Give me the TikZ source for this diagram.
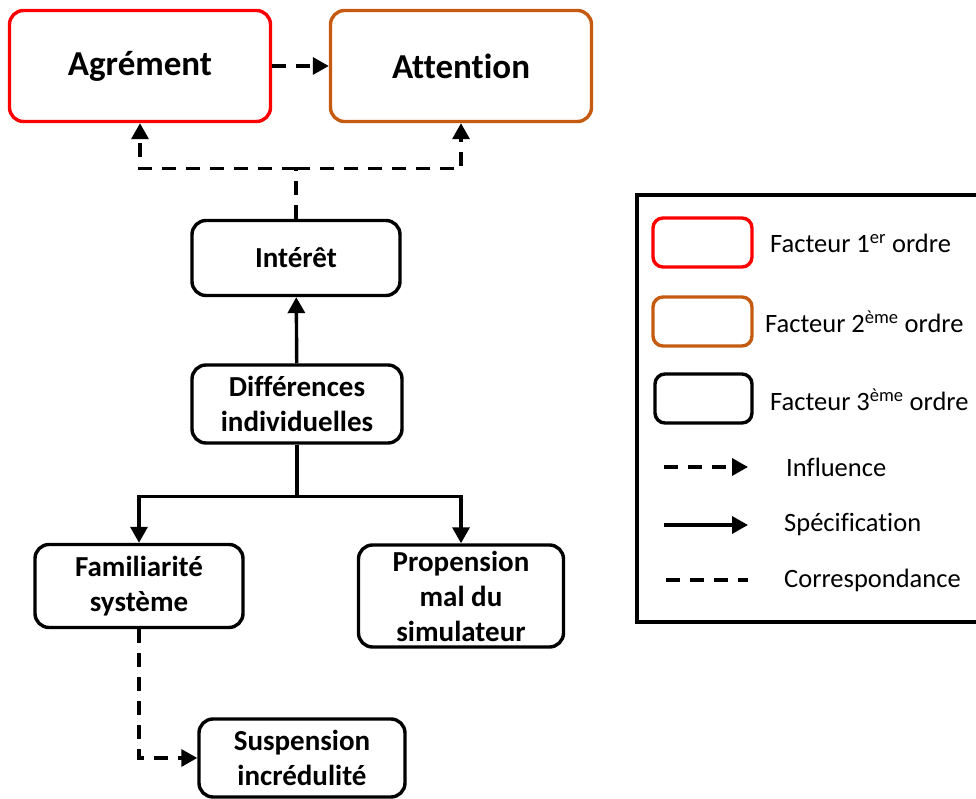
\documentclass[tikz,border=0pt]{standalone}
\usepackage{fontspec}
\setmainfont{Carlito}[Ligatures=NoCommon]
\usepackage{tikz}
\usetikzlibrary{positioning, arrows.meta}
\definecolor{factRed}{RGB}{255,0,0}
\definecolor{factOrange}{RGB}{197,90,17}

\begin{document}
\begin{tikzpicture}[x=1pt, y=1pt,
	facteur/.style={draw, line width=3.4pt, rounded corners=14pt, align=center, inner sep=0pt,
		font=\bfseries\fontsize{29}{35}\selectfont},
	influ/.style={line width=3.4pt, dash pattern=on 14pt off 10pt, -{Triangle[length=16pt,width=17pt]}},
	specif/.style={line width=3.4pt, -{Triangle[length=16pt,width=17pt]}},
	corresp/.style={line width=3.4pt, dash pattern=on 14pt off 10pt},
	legtext/.style={anchor=west, inner sep=0pt, font=\fontsize{26.5}{32}\selectfont}]
	\useasboundingbox (0,0) rectangle (976,798);
	\node[facteur, draw=factRed, minimum width=261pt, minimum height=111pt,
		font=\bfseries\fontsize{35}{42}\selectfont] (agrement) at (140,732) {Agrément};
	\node[facteur, draw=factOrange, minimum width=261pt, minimum height=111pt,
		font=\bfseries\fontsize{35}{42}\selectfont] (attention) at (461,732) {Attention};
	\node[facteur, minimum width=208pt, minimum height=75pt] (interet) at (296,540) {Intérêt};
	\node[facteur, minimum width=210pt, minimum height=78pt] (diff) at (297,394) {Différences\\individuelles};
	\node[facteur, minimum width=208pt, minimum height=83pt] (famil) at (139,212) {Familiarité\\système};
	\node[facteur, minimum width=205pt, minimum height=102pt] (prop) at (461,202) {Propension\\mal du\\simulateur};
	\node[facteur, minimum width=206pt, minimum height=78pt] (susp) at (302,40) {Suspension\\incrédulité};

	\draw[influ] (agrement) -- (attention);
	\draw[corresp] (interet.north) -- ++(0,50) coordinate (split);
	\draw[influ] (split) -| (agrement.south);
	\draw[influ] (split) -| (attention.south);
	\draw[specif] (diff) -- (interet);
	\draw[line width=3.4pt] (diff.south) -- ++(0,-52) coordinate (fork);
	\draw[specif] (fork) -| (famil.north);
	\draw[specif] (fork) -| (prop.north);
	\draw[influ] (famil.south) |- (susp.west);

	\draw[line width=3.4pt] (637,603) rectangle (990,176);
	\node[facteur, draw=factRed, minimum width=99pt, minimum height=49pt, rounded corners=10pt] (legOne) at (702.5,555.5) {};
	\node[facteur, draw=factOrange, minimum width=99pt, minimum height=49pt, rounded corners=10pt] (legTwo) at (702.5,476.5) {};
	\node[facteur, minimum width=97pt, minimum height=49pt, rounded corners=10pt] (legThree) at (703.5,399.5) {};
	\node[legtext] (txtOne) at (770,555) {Facteur 1\textsuperscript{er} ordre};
	\node[legtext] (txtTwo) at (765,476) {Facteur 2\textsuperscript{ème} ordre};
	\node[legtext] (txtThree) at (770,398) {Facteur 3\textsuperscript{ème} ordre};
	\coordinate (infA) at (664,331); \coordinate (infB) at (748,331);
	\coordinate (speA) at (664,273); \coordinate (speB) at (748,273);
	\coordinate (corA) at (666,218); \coordinate (corB) at (748,218);
	\draw[influ] (infA) -- (infB);
	\draw[specif] (speA) -- (speB);
	\draw[corresp] (corA) -- (corB);
	\node[legtext] (txtInf) at (786,331) {Influence};
	\node[legtext] (txtSpe) at (784,273) {Spécification};
	\node[legtext] (txtCor) at (784,218) {Correspondance};
\end{tikzpicture}
\end{document}
